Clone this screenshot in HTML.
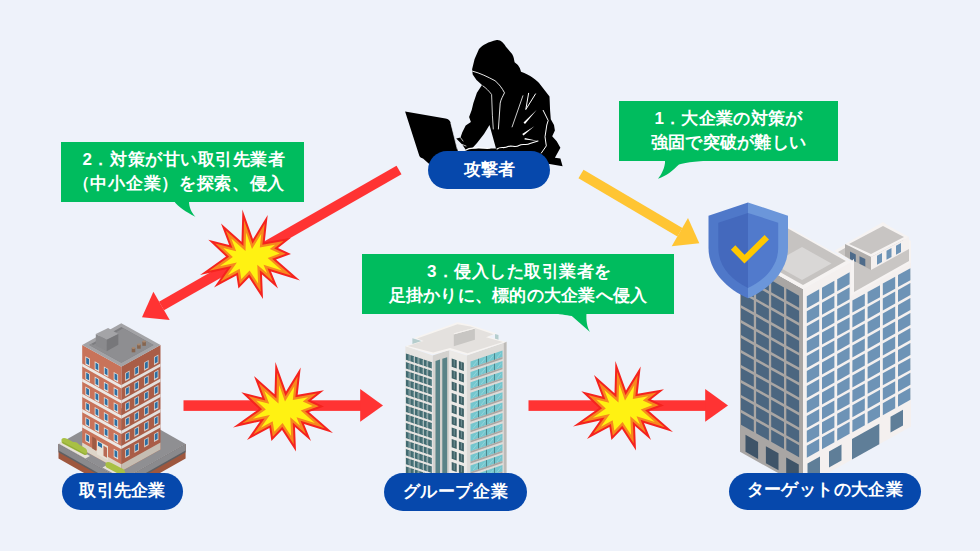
<!DOCTYPE html>
<html><head><meta charset="utf-8">
<style>
html,body{margin:0;padding:0;}
body{width:980px;height:551px;overflow:hidden;background:#EEF2FA;position:relative;font-family:"Liberation Sans",sans-serif;}
.abs{position:absolute;}
.bubble{position:absolute;background:#00BC5E;color:#fff;font-weight:bold;font-size:17px;line-height:24px;text-align:center;box-sizing:border-box;padding-top:6px;}
.pill{position:absolute;background:#0648AC;color:#fff;font-weight:bold;font-size:17px;text-align:center;border-radius:19px;box-sizing:border-box;}
svg{position:absolute;left:0;top:0;}
</style></head><body>
<svg width="980" height="551" viewBox="0 0 980 551">
<g id="b1"><polygon points="58.5,444.0 122.0,480.0 185.6,444.0 185.6,458.6 122.0,494.6 58.5,458.6" fill="#9E573E"/>
<polygon points="58.5,444.0 122.0,480.0 185.6,444.0 185.6,452.2 122.0,488.2 58.5,452.2" fill="#5F5F62"/>
<polygon points="58.5,444.0 122.0,480.0 185.6,444.0 185.6,450.4 122.0,486.4 58.5,450.4" fill="#8A8A8D"/>
<polygon points="58.5,444.0 122.0,408.0 185.6,444.0 122.0,480.0" fill="#8F8F92"/>
<polygon points="82.2,344.9 121.4,366.7 121.4,471.3 82.2,449.5" fill="#C8735A"/>
<polygon points="121.4,366.6 160.5,344.9 160.5,449.5 121.4,471.2" fill="#A95D47"/>
<polygon points="82.2,442.5 121.4,464.3 121.4,471.3 82.2,449.5" fill="#DDD5C9"/>
<polygon points="121.4,464.2 160.5,442.5 160.5,449.5 121.4,471.2" fill="#C5BDB2"/>
<polygon points="82.2,363.4 121.4,385.2 121.4,388.4 82.2,366.6" fill="#EDE9E5"/>
<polygon points="121.4,385.1 160.5,363.4 160.5,366.6 121.4,388.3" fill="#E3DFDC"/>
<polygon points="82.2,378.6 121.4,400.4 121.4,403.6 82.2,381.8" fill="#EDE9E5"/>
<polygon points="121.4,400.3 160.5,378.6 160.5,381.8 121.4,403.5" fill="#E3DFDC"/>
<polygon points="82.2,393.8 121.4,415.6 121.4,418.8 82.2,397.0" fill="#EDE9E5"/>
<polygon points="121.4,415.5 160.5,393.8 160.5,397.0 121.4,418.7" fill="#E3DFDC"/>
<polygon points="82.2,409.0 121.4,430.8 121.4,434.0 82.2,412.2" fill="#EDE9E5"/>
<polygon points="121.4,430.7 160.5,409.0 160.5,412.2 121.4,433.9" fill="#E3DFDC"/>
<polygon points="82.2,424.2 121.4,446.0 121.4,449.2 82.2,427.4" fill="#EDE9E5"/>
<polygon points="121.4,445.9 160.5,424.2 160.5,427.4 121.4,449.1" fill="#E3DFDC"/>
<polygon points="85.4,356.2 89.8,358.6 89.8,366.8 85.4,364.4" fill="#E9E6E2"/>
<polygon points="86.2,357.4 89.0,359.0 89.0,365.1 86.2,363.5" fill="#2D6FA2"/>
<polygon points="94.7,361.3 99.1,363.8 99.1,372.0 94.7,369.5" fill="#E9E6E2"/>
<polygon points="95.5,362.6 98.3,364.2 98.3,370.3 95.5,368.7" fill="#2D6FA2"/>
<polygon points="103.9,366.5 108.3,368.9 108.3,377.1 103.9,374.7" fill="#E9E6E2"/>
<polygon points="104.7,367.7 107.5,369.3 107.5,375.4 104.7,373.8" fill="#2D6FA2"/>
<polygon points="113.7,371.9 118.1,374.4 118.1,382.6 113.7,380.1" fill="#E9E6E2"/>
<polygon points="114.5,373.2 117.3,374.7 117.3,380.8 114.5,379.3" fill="#2D6FA2"/>
<polygon points="125.2,373.0 129.6,370.6 129.6,378.8 125.2,381.2" fill="#D8D3CF"/>
<polygon points="126.0,373.4 128.8,371.8 128.8,377.9 126.0,379.5" fill="#2D6FA2"/>
<polygon points="134.4,367.9 138.8,365.5 138.8,373.7 134.4,376.1" fill="#D8D3CF"/>
<polygon points="135.2,368.3 138.0,366.7 138.0,372.8 135.2,374.4" fill="#2D6FA2"/>
<polygon points="144.2,362.5 148.6,360.0 148.6,368.2 144.2,370.7" fill="#D8D3CF"/>
<polygon points="145.0,362.8 147.8,361.3 147.8,367.4 145.0,368.9" fill="#2D6FA2"/>
<polygon points="154.0,357.0 158.4,354.6 158.4,362.8 154.0,365.2" fill="#D8D3CF"/>
<polygon points="154.8,357.4 157.6,355.8 157.6,361.9 154.8,363.5" fill="#2D6FA2"/>
<polygon points="85.4,371.4 89.8,373.8 89.8,382.0 85.4,379.6" fill="#E9E6E2"/>
<polygon points="86.2,372.6 89.0,374.2 89.0,380.3 86.2,378.7" fill="#2D6FA2"/>
<polygon points="94.7,376.5 99.1,379.0 99.1,387.2 94.7,384.7" fill="#E9E6E2"/>
<polygon points="95.5,377.8 98.3,379.4 98.3,385.5 95.5,383.9" fill="#2D6FA2"/>
<polygon points="103.9,381.7 108.3,384.1 108.3,392.3 103.9,389.9" fill="#E9E6E2"/>
<polygon points="104.7,382.9 107.5,384.5 107.5,390.6 104.7,389.0" fill="#2D6FA2"/>
<polygon points="113.7,387.1 118.1,389.6 118.1,397.8 113.7,395.3" fill="#E9E6E2"/>
<polygon points="114.5,388.4 117.3,389.9 117.3,396.0 114.5,394.5" fill="#2D6FA2"/>
<polygon points="125.2,388.2 129.6,385.8 129.6,394.0 125.2,396.4" fill="#D8D3CF"/>
<polygon points="126.0,388.6 128.8,387.0 128.8,393.1 126.0,394.7" fill="#2D6FA2"/>
<polygon points="134.4,383.1 138.8,380.7 138.8,388.9 134.4,391.3" fill="#D8D3CF"/>
<polygon points="135.2,383.5 138.0,381.9 138.0,388.0 135.2,389.6" fill="#2D6FA2"/>
<polygon points="144.2,377.7 148.6,375.2 148.6,383.4 144.2,385.9" fill="#D8D3CF"/>
<polygon points="145.0,378.0 147.8,376.5 147.8,382.6 145.0,384.1" fill="#2D6FA2"/>
<polygon points="154.0,372.2 158.4,369.8 158.4,378.0 154.0,380.4" fill="#D8D3CF"/>
<polygon points="154.8,372.6 157.6,371.0 157.6,377.1 154.8,378.7" fill="#2D6FA2"/>
<polygon points="85.4,386.6 89.8,389.0 89.8,397.2 85.4,394.8" fill="#E9E6E2"/>
<polygon points="86.2,387.8 89.0,389.4 89.0,395.5 86.2,393.9" fill="#2D6FA2"/>
<polygon points="94.7,391.7 99.1,394.2 99.1,402.4 94.7,399.9" fill="#E9E6E2"/>
<polygon points="95.5,393.0 98.3,394.6 98.3,400.7 95.5,399.1" fill="#2D6FA2"/>
<polygon points="103.9,396.9 108.3,399.3 108.3,407.5 103.9,405.1" fill="#E9E6E2"/>
<polygon points="104.7,398.1 107.5,399.7 107.5,405.8 104.7,404.2" fill="#2D6FA2"/>
<polygon points="113.7,402.3 118.1,404.8 118.1,413.0 113.7,410.5" fill="#E9E6E2"/>
<polygon points="114.5,403.6 117.3,405.1 117.3,411.2 114.5,409.7" fill="#2D6FA2"/>
<polygon points="125.2,403.4 129.6,401.0 129.6,409.2 125.2,411.6" fill="#D8D3CF"/>
<polygon points="126.0,403.8 128.8,402.2 128.8,408.3 126.0,409.9" fill="#2D6FA2"/>
<polygon points="134.4,398.3 138.8,395.9 138.8,404.1 134.4,406.5" fill="#D8D3CF"/>
<polygon points="135.2,398.7 138.0,397.1 138.0,403.2 135.2,404.8" fill="#2D6FA2"/>
<polygon points="144.2,392.9 148.6,390.4 148.6,398.6 144.2,401.1" fill="#D8D3CF"/>
<polygon points="145.0,393.2 147.8,391.7 147.8,397.8 145.0,399.3" fill="#2D6FA2"/>
<polygon points="154.0,387.4 158.4,385.0 158.4,393.2 154.0,395.6" fill="#D8D3CF"/>
<polygon points="154.8,387.8 157.6,386.2 157.6,392.3 154.8,393.9" fill="#2D6FA2"/>
<polygon points="85.4,401.8 89.8,404.2 89.8,412.4 85.4,410.0" fill="#E9E6E2"/>
<polygon points="86.2,403.0 89.0,404.6 89.0,410.7 86.2,409.1" fill="#2D6FA2"/>
<polygon points="94.7,406.9 99.1,409.4 99.1,417.6 94.7,415.1" fill="#E9E6E2"/>
<polygon points="95.5,408.2 98.3,409.8 98.3,415.9 95.5,414.3" fill="#2D6FA2"/>
<polygon points="103.9,412.1 108.3,414.5 108.3,422.7 103.9,420.3" fill="#E9E6E2"/>
<polygon points="104.7,413.3 107.5,414.9 107.5,421.0 104.7,419.4" fill="#2D6FA2"/>
<polygon points="113.7,417.5 118.1,420.0 118.1,428.2 113.7,425.7" fill="#E9E6E2"/>
<polygon points="114.5,418.8 117.3,420.3 117.3,426.4 114.5,424.9" fill="#2D6FA2"/>
<polygon points="125.2,418.6 129.6,416.2 129.6,424.4 125.2,426.8" fill="#D8D3CF"/>
<polygon points="126.0,419.0 128.8,417.4 128.8,423.5 126.0,425.1" fill="#2D6FA2"/>
<polygon points="134.4,413.5 138.8,411.1 138.8,419.3 134.4,421.7" fill="#D8D3CF"/>
<polygon points="135.2,413.9 138.0,412.3 138.0,418.4 135.2,420.0" fill="#2D6FA2"/>
<polygon points="144.2,408.1 148.6,405.6 148.6,413.8 144.2,416.3" fill="#D8D3CF"/>
<polygon points="145.0,408.4 147.8,406.9 147.8,413.0 145.0,414.5" fill="#2D6FA2"/>
<polygon points="154.0,402.6 158.4,400.2 158.4,408.4 154.0,410.8" fill="#D8D3CF"/>
<polygon points="154.8,403.0 157.6,401.4 157.6,407.5 154.8,409.1" fill="#2D6FA2"/>
<polygon points="85.4,417.0 89.8,419.4 89.8,427.6 85.4,425.2" fill="#E9E6E2"/>
<polygon points="86.2,418.2 89.0,419.8 89.0,425.9 86.2,424.3" fill="#2D6FA2"/>
<polygon points="94.7,422.1 99.1,424.6 99.1,432.8 94.7,430.3" fill="#E9E6E2"/>
<polygon points="95.5,423.4 98.3,425.0 98.3,431.1 95.5,429.5" fill="#2D6FA2"/>
<polygon points="103.9,427.3 108.3,429.7 108.3,437.9 103.9,435.5" fill="#E9E6E2"/>
<polygon points="104.7,428.5 107.5,430.1 107.5,436.2 104.7,434.6" fill="#2D6FA2"/>
<polygon points="113.7,432.7 118.1,435.2 118.1,443.4 113.7,440.9" fill="#E9E6E2"/>
<polygon points="114.5,434.0 117.3,435.5 117.3,441.6 114.5,440.1" fill="#2D6FA2"/>
<polygon points="125.2,433.8 129.6,431.4 129.6,439.6 125.2,442.0" fill="#D8D3CF"/>
<polygon points="126.0,434.2 128.8,432.6 128.8,438.7 126.0,440.3" fill="#2D6FA2"/>
<polygon points="134.4,428.7 138.8,426.3 138.8,434.5 134.4,436.9" fill="#D8D3CF"/>
<polygon points="135.2,429.1 138.0,427.5 138.0,433.6 135.2,435.2" fill="#2D6FA2"/>
<polygon points="144.2,423.3 148.6,420.8 148.6,429.0 144.2,431.5" fill="#D8D3CF"/>
<polygon points="145.0,423.6 147.8,422.1 147.8,428.2 145.0,429.7" fill="#2D6FA2"/>
<polygon points="154.0,417.8 158.4,415.4 158.4,423.6 154.0,426.0" fill="#D8D3CF"/>
<polygon points="154.8,418.2 157.6,416.6 157.6,422.7 154.8,424.3" fill="#2D6FA2"/>
<polygon points="85.4,433.1 89.8,435.5 89.8,443.7 85.4,441.3" fill="#E9E6E2"/>
<polygon points="86.2,434.3 89.0,435.9 89.0,442.0 86.2,440.4" fill="#2D6FA2"/>
<polygon points="113.7,448.8 118.1,451.3 118.1,459.5 113.7,457.0" fill="#E9E6E2"/>
<polygon points="114.5,450.1 117.3,451.6 117.3,457.7 114.5,456.2" fill="#2D6FA2"/>
<polygon points="125.2,449.9 129.6,447.5 129.6,455.7 125.2,458.1" fill="#D8D3CF"/>
<polygon points="126.0,450.3 128.8,448.7 128.8,454.8 126.0,456.4" fill="#2D6FA2"/>
<polygon points="134.4,444.8 138.8,442.4 138.8,450.6 134.4,453.0" fill="#D8D3CF"/>
<polygon points="135.2,445.2 138.0,443.6 138.0,449.7 135.2,451.3" fill="#2D6FA2"/>
<polygon points="144.2,439.4 148.6,436.9 148.6,445.1 144.2,447.6" fill="#D8D3CF"/>
<polygon points="145.0,439.7 147.8,438.2 147.8,444.3 145.0,445.8" fill="#2D6FA2"/>
<polygon points="154.0,433.9 158.4,431.5 158.4,439.7 154.0,442.1" fill="#D8D3CF"/>
<polygon points="154.8,434.3 157.6,432.7 157.6,438.8 154.8,440.4" fill="#2D6FA2"/>
<polygon points="92.2,436.6 96.0,438.7 96.0,450.7 92.2,448.6" fill="#9E5A45"/>
<polygon points="97.0,440.2 108.0,446.3 108.0,460.3 97.0,454.2" fill="#E7E0D6"/>
<polygon points="98.0,441.8 102.0,444.0 102.0,448.0 98.0,445.8" fill="#2D6FA2"/>
<polygon points="103.5,445.8 107.0,447.8 107.0,457.8 103.5,455.8" fill="#B86A55"/>
<polygon points="121.4,366.7 160.5,345.0 121.3,323.2 82.2,344.9" fill="#A3A3A6"/>
<polygon points="121.4,362.8 153.5,345.0 121.3,327.1 89.2,344.9" fill="#7D7D80"/>
<polygon points="121.4,362.8 153.5,345.0 123.3,328.2 93.2,344.9 91.2,343.8 89.2,344.9" fill="#8E8E91"/>
<polygon points="95.8,333.9 108.1,328.1 118.3,333.9 106.7,339.7" fill="#A4A4A7"/>
<polygon points="95.8,333.9 106.7,339.7 106.7,351.3 95.8,345.5" fill="#8A8A8D"/>
<polygon points="106.7,339.7 118.3,333.9 118.3,344.8 106.7,351.3" fill="#77777A"/>
<rect x="131.7" y="348.1" width="3.6" height="4.2" fill="#86654F"/>
<ellipse cx="133.5" cy="348.1" rx="1.8" ry="1" fill="#A8876E"/>
<rect x="137.1" y="344.5" width="3.6" height="4.2" fill="#86654F"/>
<ellipse cx="138.9" cy="344.5" rx="1.8" ry="1" fill="#A8876E"/>
<rect x="142.3" y="341.6" width="3.6" height="4.2" fill="#86654F"/>
<ellipse cx="144.1" cy="341.6" rx="1.8" ry="1" fill="#A8876E"/>
<polygon points="58.5,443.5 63.0,441.0 90.0,456.0 85.5,458.5" fill="#E6E1D8"/>
<path d="M61.5,441 C61,437.5 64.5,437.5 67.5,439 L73,442 C76,441.5 78,443 79,444.5 L85,448 C88,450 88,454.5 84.5,455 L64.5,444.5 C62,443.5 61.5,442.5 61.5,441Z" fill="#A8C044"/>
<path d="M62,442.5 L85,454.8 C86.5,455 87.5,454 87.6,452.5 C87,454 85.8,454 84.5,453.5 L63,442 Z" fill="#8EA838"/>
<polygon points="102.5,467.5 107.0,465.0 127.0,476.0 122.5,478.5" fill="#E6E1D8"/>
<path d="M105.5,465 C105,461.5 108.5,461.5 111.5,463 L123,469 C126,471 126,475.5 122.5,476 L108.5,468.5 C106,467.5 105.5,466.5 105.5,465Z" fill="#A8C044"/></g>
<g id="b2"><polygon points="405.4,346.0 432.7,355.4 432.7,485.0 405.4,485.0" fill="#E7E5E2"/>
<polygon points="405.9,353.4 409.7,354.7 409.7,361.1 405.9,359.8" fill="#426B71"/>
<polygon points="408.5,355.0 409.3,355.3 409.3,360.3 408.5,360.0" fill="#7FA3A6"/>
<polygon points="405.9,362.1 409.7,363.4 409.7,369.8 405.9,368.5" fill="#426B71"/>
<polygon points="408.5,363.7 409.3,364.0 409.3,369.0 408.5,368.7" fill="#7FA3A6"/>
<polygon points="405.9,370.8 409.7,372.1 409.7,378.5 405.9,377.2" fill="#426B71"/>
<polygon points="408.5,372.4 409.3,372.7 409.3,377.7 408.5,377.4" fill="#7FA3A6"/>
<polygon points="405.9,379.5 409.7,380.8 409.7,387.2 405.9,385.9" fill="#426B71"/>
<polygon points="408.5,381.1 409.3,381.4 409.3,386.4 408.5,386.1" fill="#7FA3A6"/>
<polygon points="405.9,388.2 409.7,389.5 409.7,395.9 405.9,394.6" fill="#426B71"/>
<polygon points="408.5,389.8 409.3,390.1 409.3,395.1 408.5,394.8" fill="#7FA3A6"/>
<polygon points="405.9,396.9 409.7,398.2 409.7,404.6 405.9,403.3" fill="#426B71"/>
<polygon points="408.5,398.5 409.3,398.8 409.3,403.8 408.5,403.5" fill="#7FA3A6"/>
<polygon points="405.9,405.6 409.7,406.9 409.7,413.3 405.9,412.0" fill="#426B71"/>
<polygon points="408.5,407.2 409.3,407.5 409.3,412.5 408.5,412.2" fill="#7FA3A6"/>
<polygon points="405.9,414.3 409.7,415.6 409.7,422.0 405.9,420.7" fill="#426B71"/>
<polygon points="408.5,415.9 409.3,416.2 409.3,421.2 408.5,420.9" fill="#7FA3A6"/>
<polygon points="405.9,423.0 409.7,424.3 409.7,430.7 405.9,429.4" fill="#426B71"/>
<polygon points="408.5,424.6 409.3,424.9 409.3,429.9 408.5,429.6" fill="#7FA3A6"/>
<polygon points="405.9,431.7 409.7,433.0 409.7,439.4 405.9,438.1" fill="#426B71"/>
<polygon points="408.5,433.3 409.3,433.6 409.3,438.6 408.5,438.3" fill="#7FA3A6"/>
<polygon points="405.9,440.4 409.7,441.7 409.7,448.1 405.9,446.8" fill="#426B71"/>
<polygon points="408.5,442.0 409.3,442.3 409.3,447.3 408.5,447.0" fill="#7FA3A6"/>
<polygon points="405.9,449.1 409.7,450.4 409.7,456.8 405.9,455.5" fill="#426B71"/>
<polygon points="408.5,450.7 409.3,451.0 409.3,456.0 408.5,455.7" fill="#7FA3A6"/>
<polygon points="405.9,457.8 409.7,459.1 409.7,465.5 405.9,464.2" fill="#426B71"/>
<polygon points="408.5,459.4 409.3,459.7 409.3,464.7 408.5,464.4" fill="#7FA3A6"/>
<polygon points="405.9,466.5 409.7,467.8 409.7,474.2 405.9,472.9" fill="#426B71"/>
<polygon points="408.5,468.1 409.3,468.4 409.3,473.4 408.5,473.1" fill="#7FA3A6"/>
<polygon points="405.9,475.2 409.7,476.5 409.7,482.9 405.9,481.6" fill="#426B71"/>
<polygon points="408.5,476.8 409.3,477.1 409.3,482.1 408.5,481.8" fill="#7FA3A6"/>
<polygon points="410.3,354.9 414.1,356.2 414.1,362.6 410.3,361.3" fill="#426B71"/>
<polygon points="412.9,356.6 413.7,356.8 413.7,361.8 412.9,361.6" fill="#7FA3A6"/>
<polygon points="410.3,363.6 414.1,364.9 414.1,371.3 410.3,370.0" fill="#426B71"/>
<polygon points="412.9,365.3 413.7,365.5 413.7,370.5 412.9,370.3" fill="#7FA3A6"/>
<polygon points="410.3,372.3 414.1,373.6 414.1,380.0 410.3,378.7" fill="#426B71"/>
<polygon points="412.9,374.0 413.7,374.2 413.7,379.2 412.9,379.0" fill="#7FA3A6"/>
<polygon points="410.3,381.0 414.1,382.3 414.1,388.7 410.3,387.4" fill="#426B71"/>
<polygon points="412.9,382.7 413.7,382.9 413.7,387.9 412.9,387.7" fill="#7FA3A6"/>
<polygon points="410.3,389.7 414.1,391.0 414.1,397.4 410.3,396.1" fill="#426B71"/>
<polygon points="412.9,391.4 413.7,391.6 413.7,396.6 412.9,396.4" fill="#7FA3A6"/>
<polygon points="410.3,398.4 414.1,399.7 414.1,406.1 410.3,404.8" fill="#426B71"/>
<polygon points="412.9,400.1 413.7,400.3 413.7,405.3 412.9,405.1" fill="#7FA3A6"/>
<polygon points="410.3,407.1 414.1,408.4 414.1,414.8 410.3,413.5" fill="#426B71"/>
<polygon points="412.9,408.8 413.7,409.0 413.7,414.0 412.9,413.8" fill="#7FA3A6"/>
<polygon points="410.3,415.8 414.1,417.1 414.1,423.5 410.3,422.2" fill="#426B71"/>
<polygon points="412.9,417.5 413.7,417.7 413.7,422.7 412.9,422.5" fill="#7FA3A6"/>
<polygon points="410.3,424.5 414.1,425.8 414.1,432.2 410.3,430.9" fill="#426B71"/>
<polygon points="412.9,426.2 413.7,426.4 413.7,431.4 412.9,431.2" fill="#7FA3A6"/>
<polygon points="410.3,433.2 414.1,434.5 414.1,440.9 410.3,439.6" fill="#426B71"/>
<polygon points="412.9,434.9 413.7,435.1 413.7,440.1 412.9,439.9" fill="#7FA3A6"/>
<polygon points="410.3,441.9 414.1,443.2 414.1,449.6 410.3,448.3" fill="#426B71"/>
<polygon points="412.9,443.6 413.7,443.8 413.7,448.8 412.9,448.6" fill="#7FA3A6"/>
<polygon points="410.3,450.6 414.1,451.9 414.1,458.3 410.3,457.0" fill="#426B71"/>
<polygon points="412.9,452.3 413.7,452.5 413.7,457.5 412.9,457.3" fill="#7FA3A6"/>
<polygon points="410.3,459.3 414.1,460.6 414.1,467.0 410.3,465.7" fill="#426B71"/>
<polygon points="412.9,461.0 413.7,461.2 413.7,466.2 412.9,466.0" fill="#7FA3A6"/>
<polygon points="410.3,468.0 414.1,469.3 414.1,475.7 410.3,474.4" fill="#426B71"/>
<polygon points="412.9,469.7 413.7,469.9 413.7,474.9 412.9,474.7" fill="#7FA3A6"/>
<polygon points="410.3,476.7 414.1,478.0 414.1,484.4 410.3,483.1" fill="#426B71"/>
<polygon points="412.9,478.4 413.7,478.6 413.7,483.6 412.9,483.4" fill="#7FA3A6"/>
<polygon points="414.8,356.4 418.6,357.7 418.6,364.1 414.8,362.8" fill="#426B71"/>
<polygon points="417.4,358.1 418.2,358.3 418.2,363.3 417.4,363.1" fill="#7FA3A6"/>
<polygon points="414.8,365.1 418.6,366.4 418.6,372.8 414.8,371.5" fill="#426B71"/>
<polygon points="417.4,366.8 418.2,367.0 418.2,372.0 417.4,371.8" fill="#7FA3A6"/>
<polygon points="414.8,373.8 418.6,375.1 418.6,381.5 414.8,380.2" fill="#426B71"/>
<polygon points="417.4,375.5 418.2,375.7 418.2,380.7 417.4,380.5" fill="#7FA3A6"/>
<polygon points="414.8,382.5 418.6,383.8 418.6,390.2 414.8,388.9" fill="#426B71"/>
<polygon points="417.4,384.2 418.2,384.4 418.2,389.4 417.4,389.2" fill="#7FA3A6"/>
<polygon points="414.8,391.2 418.6,392.5 418.6,398.9 414.8,397.6" fill="#426B71"/>
<polygon points="417.4,392.9 418.2,393.1 418.2,398.1 417.4,397.9" fill="#7FA3A6"/>
<polygon points="414.8,399.9 418.6,401.2 418.6,407.6 414.8,406.3" fill="#426B71"/>
<polygon points="417.4,401.6 418.2,401.8 418.2,406.8 417.4,406.6" fill="#7FA3A6"/>
<polygon points="414.8,408.6 418.6,409.9 418.6,416.3 414.8,415.0" fill="#426B71"/>
<polygon points="417.4,410.3 418.2,410.5 418.2,415.5 417.4,415.3" fill="#7FA3A6"/>
<polygon points="414.8,417.3 418.6,418.6 418.6,425.0 414.8,423.7" fill="#426B71"/>
<polygon points="417.4,419.0 418.2,419.2 418.2,424.2 417.4,424.0" fill="#7FA3A6"/>
<polygon points="414.8,426.0 418.6,427.3 418.6,433.7 414.8,432.4" fill="#426B71"/>
<polygon points="417.4,427.7 418.2,427.9 418.2,432.9 417.4,432.7" fill="#7FA3A6"/>
<polygon points="414.8,434.7 418.6,436.0 418.6,442.4 414.8,441.1" fill="#426B71"/>
<polygon points="417.4,436.4 418.2,436.6 418.2,441.6 417.4,441.4" fill="#7FA3A6"/>
<polygon points="414.8,443.4 418.6,444.7 418.6,451.1 414.8,449.8" fill="#426B71"/>
<polygon points="417.4,445.1 418.2,445.3 418.2,450.3 417.4,450.1" fill="#7FA3A6"/>
<polygon points="414.8,452.1 418.6,453.4 418.6,459.8 414.8,458.5" fill="#426B71"/>
<polygon points="417.4,453.8 418.2,454.0 418.2,459.0 417.4,458.8" fill="#7FA3A6"/>
<polygon points="414.8,460.8 418.6,462.1 418.6,468.5 414.8,467.2" fill="#426B71"/>
<polygon points="417.4,462.5 418.2,462.7 418.2,467.7 417.4,467.5" fill="#7FA3A6"/>
<polygon points="414.8,469.5 418.6,470.8 418.6,477.2 414.8,475.9" fill="#426B71"/>
<polygon points="417.4,471.2 418.2,471.4 418.2,476.4 417.4,476.2" fill="#7FA3A6"/>
<polygon points="414.8,478.2 418.6,479.5 418.6,485.9 414.8,484.6" fill="#426B71"/>
<polygon points="417.4,479.9 418.2,480.1 418.2,485.1 417.4,484.9" fill="#7FA3A6"/>
<polygon points="419.2,357.9 423.1,359.2 423.1,365.6 419.2,364.3" fill="#426B71"/>
<polygon points="421.9,359.6 422.6,359.9 422.6,364.9 421.9,364.6" fill="#7FA3A6"/>
<polygon points="419.2,366.6 423.1,367.9 423.1,374.3 419.2,373.0" fill="#426B71"/>
<polygon points="421.9,368.3 422.6,368.6 422.6,373.6 421.9,373.3" fill="#7FA3A6"/>
<polygon points="419.2,375.3 423.1,376.6 423.1,383.0 419.2,381.7" fill="#426B71"/>
<polygon points="421.9,377.0 422.6,377.3 422.6,382.3 421.9,382.0" fill="#7FA3A6"/>
<polygon points="419.2,384.0 423.1,385.3 423.1,391.7 419.2,390.4" fill="#426B71"/>
<polygon points="421.9,385.7 422.6,386.0 422.6,391.0 421.9,390.7" fill="#7FA3A6"/>
<polygon points="419.2,392.7 423.1,394.0 423.1,400.4 419.2,399.1" fill="#426B71"/>
<polygon points="421.9,394.4 422.6,394.7 422.6,399.7 421.9,399.4" fill="#7FA3A6"/>
<polygon points="419.2,401.4 423.1,402.7 423.1,409.1 419.2,407.8" fill="#426B71"/>
<polygon points="421.9,403.1 422.6,403.4 422.6,408.4 421.9,408.1" fill="#7FA3A6"/>
<polygon points="419.2,410.1 423.1,411.4 423.1,417.8 419.2,416.5" fill="#426B71"/>
<polygon points="421.9,411.8 422.6,412.1 422.6,417.1 421.9,416.8" fill="#7FA3A6"/>
<polygon points="419.2,418.8 423.1,420.1 423.1,426.5 419.2,425.2" fill="#426B71"/>
<polygon points="421.9,420.5 422.6,420.8 422.6,425.8 421.9,425.5" fill="#7FA3A6"/>
<polygon points="419.2,427.5 423.1,428.8 423.1,435.2 419.2,433.9" fill="#426B71"/>
<polygon points="421.9,429.2 422.6,429.5 422.6,434.5 421.9,434.2" fill="#7FA3A6"/>
<polygon points="419.2,436.2 423.1,437.5 423.1,443.9 419.2,442.6" fill="#426B71"/>
<polygon points="421.9,437.9 422.6,438.2 422.6,443.2 421.9,442.9" fill="#7FA3A6"/>
<polygon points="419.2,444.9 423.1,446.2 423.1,452.6 419.2,451.3" fill="#426B71"/>
<polygon points="421.9,446.6 422.6,446.9 422.6,451.9 421.9,451.6" fill="#7FA3A6"/>
<polygon points="419.2,453.6 423.1,454.9 423.1,461.3 419.2,460.0" fill="#426B71"/>
<polygon points="421.9,455.3 422.6,455.6 422.6,460.6 421.9,460.3" fill="#7FA3A6"/>
<polygon points="419.2,462.3 423.1,463.6 423.1,470.0 419.2,468.7" fill="#426B71"/>
<polygon points="421.9,464.0 422.6,464.3 422.6,469.3 421.9,469.0" fill="#7FA3A6"/>
<polygon points="419.2,471.0 423.1,472.3 423.1,478.7 419.2,477.4" fill="#426B71"/>
<polygon points="421.9,472.7 422.6,473.0 422.6,478.0 421.9,477.7" fill="#7FA3A6"/>
<polygon points="419.2,479.7 423.1,481.0 423.1,487.4 419.2,486.1" fill="#426B71"/>
<polygon points="421.9,481.4 422.6,481.7 422.6,486.7 421.9,486.4" fill="#7FA3A6"/>
<polygon points="423.7,359.4 427.5,360.7 427.5,367.1 423.7,365.8" fill="#426B71"/>
<polygon points="426.3,361.1 427.1,361.4 427.1,366.4 426.3,366.1" fill="#7FA3A6"/>
<polygon points="423.7,368.1 427.5,369.4 427.5,375.8 423.7,374.5" fill="#426B71"/>
<polygon points="426.3,369.8 427.1,370.1 427.1,375.1 426.3,374.8" fill="#7FA3A6"/>
<polygon points="423.7,376.8 427.5,378.1 427.5,384.5 423.7,383.2" fill="#426B71"/>
<polygon points="426.3,378.5 427.1,378.8 427.1,383.8 426.3,383.5" fill="#7FA3A6"/>
<polygon points="423.7,385.5 427.5,386.8 427.5,393.2 423.7,391.9" fill="#426B71"/>
<polygon points="426.3,387.2 427.1,387.5 427.1,392.5 426.3,392.2" fill="#7FA3A6"/>
<polygon points="423.7,394.2 427.5,395.5 427.5,401.9 423.7,400.6" fill="#426B71"/>
<polygon points="426.3,395.9 427.1,396.2 427.1,401.2 426.3,400.9" fill="#7FA3A6"/>
<polygon points="423.7,402.9 427.5,404.2 427.5,410.6 423.7,409.3" fill="#426B71"/>
<polygon points="426.3,404.6 427.1,404.9 427.1,409.9 426.3,409.6" fill="#7FA3A6"/>
<polygon points="423.7,411.6 427.5,412.9 427.5,419.3 423.7,418.0" fill="#426B71"/>
<polygon points="426.3,413.3 427.1,413.6 427.1,418.6 426.3,418.3" fill="#7FA3A6"/>
<polygon points="423.7,420.3 427.5,421.6 427.5,428.0 423.7,426.7" fill="#426B71"/>
<polygon points="426.3,422.0 427.1,422.3 427.1,427.3 426.3,427.0" fill="#7FA3A6"/>
<polygon points="423.7,429.0 427.5,430.3 427.5,436.7 423.7,435.4" fill="#426B71"/>
<polygon points="426.3,430.7 427.1,431.0 427.1,436.0 426.3,435.7" fill="#7FA3A6"/>
<polygon points="423.7,437.7 427.5,439.0 427.5,445.4 423.7,444.1" fill="#426B71"/>
<polygon points="426.3,439.4 427.1,439.7 427.1,444.7 426.3,444.4" fill="#7FA3A6"/>
<polygon points="423.7,446.4 427.5,447.7 427.5,454.1 423.7,452.8" fill="#426B71"/>
<polygon points="426.3,448.1 427.1,448.4 427.1,453.4 426.3,453.1" fill="#7FA3A6"/>
<polygon points="423.7,455.1 427.5,456.4 427.5,462.8 423.7,461.5" fill="#426B71"/>
<polygon points="426.3,456.8 427.1,457.1 427.1,462.1 426.3,461.8" fill="#7FA3A6"/>
<polygon points="423.7,463.8 427.5,465.1 427.5,471.5 423.7,470.2" fill="#426B71"/>
<polygon points="426.3,465.5 427.1,465.8 427.1,470.8 426.3,470.5" fill="#7FA3A6"/>
<polygon points="423.7,472.5 427.5,473.8 427.5,480.2 423.7,478.9" fill="#426B71"/>
<polygon points="426.3,474.2 427.1,474.5 427.1,479.5 426.3,479.2" fill="#7FA3A6"/>
<polygon points="423.7,481.2 427.5,482.5 427.5,488.9 423.7,487.6" fill="#426B71"/>
<polygon points="426.3,482.9 427.1,483.2 427.1,488.2 426.3,487.9" fill="#7FA3A6"/>
<polygon points="428.1,360.9 431.9,362.2 431.9,368.6 428.1,367.3" fill="#426B71"/>
<polygon points="430.8,362.6 431.5,362.9 431.5,367.9 430.8,367.6" fill="#7FA3A6"/>
<polygon points="428.1,369.6 431.9,370.9 431.9,377.3 428.1,376.0" fill="#426B71"/>
<polygon points="430.8,371.3 431.5,371.6 431.5,376.6 430.8,376.3" fill="#7FA3A6"/>
<polygon points="428.1,378.3 431.9,379.6 431.9,386.0 428.1,384.7" fill="#426B71"/>
<polygon points="430.8,380.0 431.5,380.3 431.5,385.3 430.8,385.0" fill="#7FA3A6"/>
<polygon points="428.1,387.0 431.9,388.3 431.9,394.7 428.1,393.4" fill="#426B71"/>
<polygon points="430.8,388.7 431.5,389.0 431.5,394.0 430.8,393.7" fill="#7FA3A6"/>
<polygon points="428.1,395.7 431.9,397.0 431.9,403.4 428.1,402.1" fill="#426B71"/>
<polygon points="430.8,397.4 431.5,397.7 431.5,402.7 430.8,402.4" fill="#7FA3A6"/>
<polygon points="428.1,404.4 431.9,405.7 431.9,412.1 428.1,410.8" fill="#426B71"/>
<polygon points="430.8,406.1 431.5,406.4 431.5,411.4 430.8,411.1" fill="#7FA3A6"/>
<polygon points="428.1,413.1 431.9,414.4 431.9,420.8 428.1,419.5" fill="#426B71"/>
<polygon points="430.8,414.8 431.5,415.1 431.5,420.1 430.8,419.8" fill="#7FA3A6"/>
<polygon points="428.1,421.8 431.9,423.1 431.9,429.5 428.1,428.2" fill="#426B71"/>
<polygon points="430.8,423.5 431.5,423.8 431.5,428.8 430.8,428.5" fill="#7FA3A6"/>
<polygon points="428.1,430.5 431.9,431.8 431.9,438.2 428.1,436.9" fill="#426B71"/>
<polygon points="430.8,432.2 431.5,432.5 431.5,437.5 430.8,437.2" fill="#7FA3A6"/>
<polygon points="428.1,439.2 431.9,440.5 431.9,446.9 428.1,445.6" fill="#426B71"/>
<polygon points="430.8,440.9 431.5,441.2 431.5,446.2 430.8,445.9" fill="#7FA3A6"/>
<polygon points="428.1,447.9 431.9,449.2 431.9,455.6 428.1,454.3" fill="#426B71"/>
<polygon points="430.8,449.6 431.5,449.9 431.5,454.9 430.8,454.6" fill="#7FA3A6"/>
<polygon points="428.1,456.6 431.9,457.9 431.9,464.3 428.1,463.0" fill="#426B71"/>
<polygon points="430.8,458.3 431.5,458.6 431.5,463.6 430.8,463.3" fill="#7FA3A6"/>
<polygon points="428.1,465.3 431.9,466.6 431.9,473.0 428.1,471.7" fill="#426B71"/>
<polygon points="430.8,467.0 431.5,467.3 431.5,472.3 430.8,472.0" fill="#7FA3A6"/>
<polygon points="428.1,474.0 431.9,475.3 431.9,481.7 428.1,480.4" fill="#426B71"/>
<polygon points="430.8,475.7 431.5,476.0 431.5,481.0 430.8,480.7" fill="#7FA3A6"/>
<polygon points="428.1,482.7 431.9,484.0 431.9,490.4 428.1,489.1" fill="#426B71"/>
<polygon points="430.8,484.4 431.5,484.7 431.5,489.7 430.8,489.4" fill="#7FA3A6"/>
<polygon points="432.7,355.4 449.5,349.9 449.5,485.0 432.7,485.0" fill="#D4D2CF"/>
<polygon points="435.5,361.0 440.0,359.5 440.0,485.0 435.5,485.0" fill="#5A8388"/>
<polygon points="442.3,358.8 447.2,357.2 447.2,485.0 442.3,485.0" fill="#5A8388"/>
<polygon points="449.5,349.9 466.8,355.4 466.8,485.0 449.5,485.0" fill="#ECEAE7"/>
<polygon points="451.7,358.6 456.7,360.3 456.7,368.5 451.7,366.8" fill="#3F6166"/>
<line x1="454.2" y1="359.6" x2="454.2" y2="366.4" stroke="#8FB0B3" stroke-width="0.6"/>
<polygon points="451.7,370.1 456.7,371.8 456.7,380.0 451.7,378.3" fill="#3F6166"/>
<line x1="454.2" y1="371.1" x2="454.2" y2="377.9" stroke="#8FB0B3" stroke-width="0.6"/>
<polygon points="451.7,381.6 456.7,383.3 456.7,391.5 451.7,389.8" fill="#3F6166"/>
<line x1="454.2" y1="382.6" x2="454.2" y2="389.4" stroke="#8FB0B3" stroke-width="0.6"/>
<polygon points="451.7,393.1 456.7,394.8 456.7,403.0 451.7,401.3" fill="#3F6166"/>
<line x1="454.2" y1="394.1" x2="454.2" y2="400.9" stroke="#8FB0B3" stroke-width="0.6"/>
<polygon points="451.7,404.6 456.7,406.3 456.7,414.5 451.7,412.8" fill="#3F6166"/>
<line x1="454.2" y1="405.6" x2="454.2" y2="412.4" stroke="#8FB0B3" stroke-width="0.6"/>
<polygon points="451.7,416.1 456.7,417.8 456.7,426.0 451.7,424.3" fill="#3F6166"/>
<line x1="454.2" y1="417.1" x2="454.2" y2="423.9" stroke="#8FB0B3" stroke-width="0.6"/>
<polygon points="451.7,427.6 456.7,429.3 456.7,437.5 451.7,435.8" fill="#3F6166"/>
<line x1="454.2" y1="428.6" x2="454.2" y2="435.4" stroke="#8FB0B3" stroke-width="0.6"/>
<polygon points="451.7,439.1 456.7,440.8 456.7,449.0 451.7,447.3" fill="#3F6166"/>
<line x1="454.2" y1="440.1" x2="454.2" y2="446.9" stroke="#8FB0B3" stroke-width="0.6"/>
<polygon points="451.7,450.6 456.7,452.3 456.7,460.5 451.7,458.8" fill="#3F6166"/>
<line x1="454.2" y1="451.6" x2="454.2" y2="458.4" stroke="#8FB0B3" stroke-width="0.6"/>
<polygon points="451.7,462.1 456.7,463.8 456.7,472.0 451.7,470.3" fill="#3F6166"/>
<line x1="454.2" y1="463.1" x2="454.2" y2="469.9" stroke="#8FB0B3" stroke-width="0.6"/>
<polygon points="458.9,361.0 463.9,362.7 463.9,370.9 458.9,369.2" fill="#3F6166"/>
<line x1="461.4" y1="362.0" x2="461.4" y2="368.8" stroke="#8FB0B3" stroke-width="0.6"/>
<polygon points="458.9,372.5 463.9,374.2 463.9,382.4 458.9,380.7" fill="#3F6166"/>
<line x1="461.4" y1="373.5" x2="461.4" y2="380.3" stroke="#8FB0B3" stroke-width="0.6"/>
<polygon points="458.9,384.0 463.9,385.7 463.9,393.9 458.9,392.2" fill="#3F6166"/>
<line x1="461.4" y1="385.0" x2="461.4" y2="391.8" stroke="#8FB0B3" stroke-width="0.6"/>
<polygon points="458.9,395.5 463.9,397.2 463.9,405.4 458.9,403.7" fill="#3F6166"/>
<line x1="461.4" y1="396.5" x2="461.4" y2="403.3" stroke="#8FB0B3" stroke-width="0.6"/>
<polygon points="458.9,407.0 463.9,408.7 463.9,416.9 458.9,415.2" fill="#3F6166"/>
<line x1="461.4" y1="408.0" x2="461.4" y2="414.8" stroke="#8FB0B3" stroke-width="0.6"/>
<polygon points="458.9,418.5 463.9,420.2 463.9,428.4 458.9,426.7" fill="#3F6166"/>
<line x1="461.4" y1="419.5" x2="461.4" y2="426.3" stroke="#8FB0B3" stroke-width="0.6"/>
<polygon points="458.9,430.0 463.9,431.7 463.9,439.9 458.9,438.2" fill="#3F6166"/>
<line x1="461.4" y1="431.0" x2="461.4" y2="437.8" stroke="#8FB0B3" stroke-width="0.6"/>
<polygon points="458.9,441.5 463.9,443.2 463.9,451.4 458.9,449.7" fill="#3F6166"/>
<line x1="461.4" y1="442.5" x2="461.4" y2="449.3" stroke="#8FB0B3" stroke-width="0.6"/>
<polygon points="458.9,453.0 463.9,454.7 463.9,462.9 458.9,461.2" fill="#3F6166"/>
<line x1="461.4" y1="454.0" x2="461.4" y2="460.8" stroke="#8FB0B3" stroke-width="0.6"/>
<polygon points="458.9,464.5 463.9,466.2 463.9,474.4 458.9,472.7" fill="#3F6166"/>
<line x1="461.4" y1="465.5" x2="461.4" y2="472.3" stroke="#8FB0B3" stroke-width="0.6"/>
<polygon points="466.8,355.4 506.5,341.8 506.5,485.0 466.8,485.0" fill="#DDDBD8"/>
<polygon points="503.8,342.7 506.5,341.8 506.5,485.0 503.8,485.0" fill="#BDBBB8"/>
<polygon points="470.5,361.5 502.5,350.6 502.5,357.1 470.5,368.0" fill="#74C6CE"/>
<polygon points="470.5,368.0 502.5,357.1 502.5,358.9 470.5,369.8" fill="#A9A7A4"/>
<line x1="478.5" y1="358.8" x2="478.5" y2="365.3" stroke="#3E6B70" stroke-width="0.7"/>
<line x1="486.5" y1="356.1" x2="486.5" y2="362.6" stroke="#3E6B70" stroke-width="0.7"/>
<line x1="494.5" y1="353.3" x2="494.5" y2="359.8" stroke="#3E6B70" stroke-width="0.7"/>
<line x1="473.0" y1="366.1" x2="477.0" y2="361.1" stroke="#A6DDE2" stroke-width="0.6"/>
<line x1="481.0" y1="363.4" x2="485.0" y2="358.4" stroke="#A6DDE2" stroke-width="0.6"/>
<line x1="489.0" y1="360.7" x2="493.0" y2="355.7" stroke="#A6DDE2" stroke-width="0.6"/>
<line x1="497.0" y1="358.0" x2="501.0" y2="353.0" stroke="#A6DDE2" stroke-width="0.6"/>
<polygon points="470.5,371.9 502.5,361.0 502.5,367.5 470.5,378.4" fill="#74C6CE"/>
<polygon points="470.5,378.4 502.5,367.5 502.5,369.3 470.5,380.2" fill="#A9A7A4"/>
<line x1="478.5" y1="369.2" x2="478.5" y2="375.7" stroke="#3E6B70" stroke-width="0.7"/>
<line x1="486.5" y1="366.5" x2="486.5" y2="373.0" stroke="#3E6B70" stroke-width="0.7"/>
<line x1="494.5" y1="363.7" x2="494.5" y2="370.2" stroke="#3E6B70" stroke-width="0.7"/>
<line x1="473.0" y1="376.5" x2="477.0" y2="371.5" stroke="#A6DDE2" stroke-width="0.6"/>
<line x1="481.0" y1="373.8" x2="485.0" y2="368.8" stroke="#A6DDE2" stroke-width="0.6"/>
<line x1="489.0" y1="371.1" x2="493.0" y2="366.1" stroke="#A6DDE2" stroke-width="0.6"/>
<line x1="497.0" y1="368.4" x2="501.0" y2="363.4" stroke="#A6DDE2" stroke-width="0.6"/>
<polygon points="470.5,382.3 502.5,371.4 502.5,377.9 470.5,388.8" fill="#74C6CE"/>
<polygon points="470.5,388.8 502.5,377.9 502.5,379.7 470.5,390.6" fill="#A9A7A4"/>
<line x1="478.5" y1="379.6" x2="478.5" y2="386.1" stroke="#3E6B70" stroke-width="0.7"/>
<line x1="486.5" y1="376.9" x2="486.5" y2="383.4" stroke="#3E6B70" stroke-width="0.7"/>
<line x1="494.5" y1="374.1" x2="494.5" y2="380.6" stroke="#3E6B70" stroke-width="0.7"/>
<line x1="473.0" y1="386.9" x2="477.0" y2="381.9" stroke="#A6DDE2" stroke-width="0.6"/>
<line x1="481.0" y1="384.2" x2="485.0" y2="379.2" stroke="#A6DDE2" stroke-width="0.6"/>
<line x1="489.0" y1="381.5" x2="493.0" y2="376.5" stroke="#A6DDE2" stroke-width="0.6"/>
<line x1="497.0" y1="378.8" x2="501.0" y2="373.8" stroke="#A6DDE2" stroke-width="0.6"/>
<polygon points="470.5,392.7 502.5,381.8 502.5,388.3 470.5,399.2" fill="#74C6CE"/>
<polygon points="470.5,399.2 502.5,388.3 502.5,390.1 470.5,401.0" fill="#A9A7A4"/>
<line x1="478.5" y1="390.0" x2="478.5" y2="396.5" stroke="#3E6B70" stroke-width="0.7"/>
<line x1="486.5" y1="387.3" x2="486.5" y2="393.8" stroke="#3E6B70" stroke-width="0.7"/>
<line x1="494.5" y1="384.5" x2="494.5" y2="391.0" stroke="#3E6B70" stroke-width="0.7"/>
<line x1="473.0" y1="397.3" x2="477.0" y2="392.3" stroke="#A6DDE2" stroke-width="0.6"/>
<line x1="481.0" y1="394.6" x2="485.0" y2="389.6" stroke="#A6DDE2" stroke-width="0.6"/>
<line x1="489.0" y1="391.9" x2="493.0" y2="386.9" stroke="#A6DDE2" stroke-width="0.6"/>
<line x1="497.0" y1="389.2" x2="501.0" y2="384.2" stroke="#A6DDE2" stroke-width="0.6"/>
<polygon points="470.5,403.1 502.5,392.2 502.5,398.7 470.5,409.6" fill="#74C6CE"/>
<polygon points="470.5,409.6 502.5,398.7 502.5,400.5 470.5,411.4" fill="#A9A7A4"/>
<line x1="478.5" y1="400.4" x2="478.5" y2="406.9" stroke="#3E6B70" stroke-width="0.7"/>
<line x1="486.5" y1="397.7" x2="486.5" y2="404.2" stroke="#3E6B70" stroke-width="0.7"/>
<line x1="494.5" y1="394.9" x2="494.5" y2="401.4" stroke="#3E6B70" stroke-width="0.7"/>
<line x1="473.0" y1="407.8" x2="477.0" y2="402.8" stroke="#A6DDE2" stroke-width="0.6"/>
<line x1="481.0" y1="405.0" x2="485.0" y2="400.0" stroke="#A6DDE2" stroke-width="0.6"/>
<line x1="489.0" y1="402.3" x2="493.0" y2="397.3" stroke="#A6DDE2" stroke-width="0.6"/>
<line x1="497.0" y1="399.6" x2="501.0" y2="394.6" stroke="#A6DDE2" stroke-width="0.6"/>
<polygon points="470.5,413.5 502.5,402.6 502.5,409.1 470.5,420.0" fill="#74C6CE"/>
<polygon points="470.5,420.0 502.5,409.1 502.5,410.9 470.5,421.8" fill="#A9A7A4"/>
<line x1="478.5" y1="410.8" x2="478.5" y2="417.3" stroke="#3E6B70" stroke-width="0.7"/>
<line x1="486.5" y1="408.1" x2="486.5" y2="414.6" stroke="#3E6B70" stroke-width="0.7"/>
<line x1="494.5" y1="405.3" x2="494.5" y2="411.8" stroke="#3E6B70" stroke-width="0.7"/>
<line x1="473.0" y1="418.1" x2="477.0" y2="413.1" stroke="#A6DDE2" stroke-width="0.6"/>
<line x1="481.0" y1="415.4" x2="485.0" y2="410.4" stroke="#A6DDE2" stroke-width="0.6"/>
<line x1="489.0" y1="412.7" x2="493.0" y2="407.7" stroke="#A6DDE2" stroke-width="0.6"/>
<line x1="497.0" y1="410.0" x2="501.0" y2="405.0" stroke="#A6DDE2" stroke-width="0.6"/>
<polygon points="470.5,423.9 502.5,413.0 502.5,419.5 470.5,430.4" fill="#74C6CE"/>
<polygon points="470.5,430.4 502.5,419.5 502.5,421.3 470.5,432.2" fill="#A9A7A4"/>
<line x1="478.5" y1="421.2" x2="478.5" y2="427.7" stroke="#3E6B70" stroke-width="0.7"/>
<line x1="486.5" y1="418.5" x2="486.5" y2="425.0" stroke="#3E6B70" stroke-width="0.7"/>
<line x1="494.5" y1="415.7" x2="494.5" y2="422.2" stroke="#3E6B70" stroke-width="0.7"/>
<line x1="473.0" y1="428.5" x2="477.0" y2="423.5" stroke="#A6DDE2" stroke-width="0.6"/>
<line x1="481.0" y1="425.8" x2="485.0" y2="420.8" stroke="#A6DDE2" stroke-width="0.6"/>
<line x1="489.0" y1="423.1" x2="493.0" y2="418.1" stroke="#A6DDE2" stroke-width="0.6"/>
<line x1="497.0" y1="420.4" x2="501.0" y2="415.4" stroke="#A6DDE2" stroke-width="0.6"/>
<polygon points="470.5,434.3 502.5,423.4 502.5,429.9 470.5,440.8" fill="#74C6CE"/>
<polygon points="470.5,440.8 502.5,429.9 502.5,431.7 470.5,442.6" fill="#A9A7A4"/>
<line x1="478.5" y1="431.6" x2="478.5" y2="438.1" stroke="#3E6B70" stroke-width="0.7"/>
<line x1="486.5" y1="428.9" x2="486.5" y2="435.4" stroke="#3E6B70" stroke-width="0.7"/>
<line x1="494.5" y1="426.1" x2="494.5" y2="432.6" stroke="#3E6B70" stroke-width="0.7"/>
<line x1="473.0" y1="438.9" x2="477.0" y2="433.9" stroke="#A6DDE2" stroke-width="0.6"/>
<line x1="481.0" y1="436.2" x2="485.0" y2="431.2" stroke="#A6DDE2" stroke-width="0.6"/>
<line x1="489.0" y1="433.5" x2="493.0" y2="428.5" stroke="#A6DDE2" stroke-width="0.6"/>
<line x1="497.0" y1="430.8" x2="501.0" y2="425.8" stroke="#A6DDE2" stroke-width="0.6"/>
<polygon points="470.5,444.7 502.5,433.8 502.5,440.3 470.5,451.2" fill="#74C6CE"/>
<polygon points="470.5,451.2 502.5,440.3 502.5,442.1 470.5,453.0" fill="#A9A7A4"/>
<line x1="478.5" y1="442.0" x2="478.5" y2="448.5" stroke="#3E6B70" stroke-width="0.7"/>
<line x1="486.5" y1="439.3" x2="486.5" y2="445.8" stroke="#3E6B70" stroke-width="0.7"/>
<line x1="494.5" y1="436.5" x2="494.5" y2="443.0" stroke="#3E6B70" stroke-width="0.7"/>
<line x1="473.0" y1="449.3" x2="477.0" y2="444.3" stroke="#A6DDE2" stroke-width="0.6"/>
<line x1="481.0" y1="446.6" x2="485.0" y2="441.6" stroke="#A6DDE2" stroke-width="0.6"/>
<line x1="489.0" y1="443.9" x2="493.0" y2="438.9" stroke="#A6DDE2" stroke-width="0.6"/>
<line x1="497.0" y1="441.2" x2="501.0" y2="436.2" stroke="#A6DDE2" stroke-width="0.6"/>
<polygon points="470.5,455.1 502.5,444.2 502.5,450.7 470.5,461.6" fill="#74C6CE"/>
<polygon points="470.5,461.6 502.5,450.7 502.5,452.5 470.5,463.4" fill="#A9A7A4"/>
<line x1="478.5" y1="452.4" x2="478.5" y2="458.9" stroke="#3E6B70" stroke-width="0.7"/>
<line x1="486.5" y1="449.7" x2="486.5" y2="456.2" stroke="#3E6B70" stroke-width="0.7"/>
<line x1="494.5" y1="446.9" x2="494.5" y2="453.4" stroke="#3E6B70" stroke-width="0.7"/>
<line x1="473.0" y1="459.8" x2="477.0" y2="454.8" stroke="#A6DDE2" stroke-width="0.6"/>
<line x1="481.0" y1="457.0" x2="485.0" y2="452.0" stroke="#A6DDE2" stroke-width="0.6"/>
<line x1="489.0" y1="454.3" x2="493.0" y2="449.3" stroke="#A6DDE2" stroke-width="0.6"/>
<line x1="497.0" y1="451.6" x2="501.0" y2="446.6" stroke="#A6DDE2" stroke-width="0.6"/>
<polygon points="470.5,465.5 502.5,454.6 502.5,461.1 470.5,472.0" fill="#74C6CE"/>
<polygon points="470.5,472.0 502.5,461.1 502.5,462.9 470.5,473.8" fill="#A9A7A4"/>
<line x1="478.5" y1="462.8" x2="478.5" y2="469.3" stroke="#3E6B70" stroke-width="0.7"/>
<line x1="486.5" y1="460.1" x2="486.5" y2="466.6" stroke="#3E6B70" stroke-width="0.7"/>
<line x1="494.5" y1="457.3" x2="494.5" y2="463.8" stroke="#3E6B70" stroke-width="0.7"/>
<line x1="473.0" y1="470.1" x2="477.0" y2="465.1" stroke="#A6DDE2" stroke-width="0.6"/>
<line x1="481.0" y1="467.4" x2="485.0" y2="462.4" stroke="#A6DDE2" stroke-width="0.6"/>
<line x1="489.0" y1="464.7" x2="493.0" y2="459.7" stroke="#A6DDE2" stroke-width="0.6"/>
<line x1="497.0" y1="462.0" x2="501.0" y2="457.0" stroke="#A6DDE2" stroke-width="0.6"/>
<polygon points="470.5,475.9 502.5,465.0 502.5,471.5 470.5,482.4" fill="#74C6CE"/>
<polygon points="470.5,482.4 502.5,471.5 502.5,473.3 470.5,484.2" fill="#A9A7A4"/>
<line x1="478.5" y1="473.2" x2="478.5" y2="479.7" stroke="#3E6B70" stroke-width="0.7"/>
<line x1="486.5" y1="470.5" x2="486.5" y2="477.0" stroke="#3E6B70" stroke-width="0.7"/>
<line x1="494.5" y1="467.7" x2="494.5" y2="474.2" stroke="#3E6B70" stroke-width="0.7"/>
<line x1="473.0" y1="480.5" x2="477.0" y2="475.5" stroke="#A6DDE2" stroke-width="0.6"/>
<line x1="481.0" y1="477.8" x2="485.0" y2="472.8" stroke="#A6DDE2" stroke-width="0.6"/>
<line x1="489.0" y1="475.1" x2="493.0" y2="470.1" stroke="#A6DDE2" stroke-width="0.6"/>
<line x1="497.0" y1="472.4" x2="501.0" y2="467.4" stroke="#A6DDE2" stroke-width="0.6"/>
<polygon points="412.4,338.2 421.9,340.9 421.9,345.0 412.4,345.0" fill="#B5CDCD"/>
<polygon points="495.0,333.9 498.5,335.0 498.5,340.0 495.0,340.0" fill="#B5CDCD"/>
<polygon points="405.2,346.2 421.9,340.9 413.9,338.0 457.5,322.3 470.5,324.9 496.7,333.6 488.7,336.8 506.1,341.9 467.6,355.0 450.2,349.9 433.1,354.2" fill="#F7F4F1"/>
<polygon points="407.8,346.0 423.5,341.0 417.0,338.6 457.5,324.2 470.5,326.6 493.5,334.2 486.0,337.2 503.0,342.0 467.6,353.2 450.2,348.1 433.1,352.4" fill="#E4E1DE"/>
<polygon points="453.8,333.9 474.9,328.1 474.9,339.7 453.8,346.2" fill="#C8C6C3"/>
<polygon points="453.8,333.9 474.9,328.1" fill="#F7F4F1" stroke="#F4F1EE" stroke-width="1"/></g>
<g id="b3"><polygon points="740.0,253.7 803.0,289.0 803.0,487.0 740.0,451.7" fill="#A9A6A4"/>
<polygon points="741.0,263.3 753.8,270.4 753.8,282.4 741.0,275.3" fill="#4B6680"/>
<polygon points="741.0,278.2 753.8,285.4 753.8,297.4 741.0,290.2" fill="#4B6680"/>
<polygon points="741.0,293.2 753.8,300.3 753.8,312.3 741.0,305.2" fill="#4B6680"/>
<polygon points="741.0,308.1 753.8,315.3 753.8,327.3 741.0,320.1" fill="#4B6680"/>
<polygon points="741.0,323.1 753.8,330.2 753.8,342.2 741.0,335.1" fill="#4B6680"/>
<polygon points="741.0,338.0 753.8,345.2 753.8,357.2 741.0,350.0" fill="#4B6680"/>
<polygon points="741.0,353.0 753.8,360.1 753.8,372.1 741.0,365.0" fill="#4B6680"/>
<polygon points="741.0,367.9 753.8,375.1 753.8,387.1 741.0,379.9" fill="#4B6680"/>
<polygon points="741.0,382.9 753.8,390.0 753.8,402.0 741.0,394.9" fill="#4B6680"/>
<polygon points="741.0,397.8 753.8,405.0 753.8,417.0 741.0,409.8" fill="#4B6680"/>
<polygon points="741.0,412.8 753.8,419.9 753.8,431.9 741.0,424.8" fill="#4B6680"/>
<polygon points="756.1,271.7 768.9,278.9 768.9,290.9 756.1,283.7" fill="#4B6680"/>
<polygon points="756.1,286.7 768.9,293.9 768.9,305.9 756.1,298.7" fill="#4B6680"/>
<polygon points="756.1,301.6 768.9,308.8 768.9,320.8 756.1,313.6" fill="#4B6680"/>
<polygon points="756.1,316.6 768.9,323.8 768.9,335.8 756.1,328.6" fill="#4B6680"/>
<polygon points="756.1,331.5 768.9,338.7 768.9,350.7 756.1,343.5" fill="#4B6680"/>
<polygon points="756.1,346.5 768.9,353.7 768.9,365.7 756.1,358.5" fill="#4B6680"/>
<polygon points="756.1,361.4 768.9,368.6 768.9,380.6 756.1,373.4" fill="#4B6680"/>
<polygon points="756.1,376.4 768.9,383.6 768.9,395.6 756.1,388.4" fill="#4B6680"/>
<polygon points="756.1,391.3 768.9,398.5 768.9,410.5 756.1,403.3" fill="#4B6680"/>
<polygon points="756.1,406.3 768.9,413.5 768.9,425.5 756.1,418.3" fill="#4B6680"/>
<polygon points="756.1,421.2 768.9,428.4 768.9,440.4 756.1,433.2" fill="#4B6680"/>
<polygon points="771.2,280.2 784.0,287.4 784.0,299.4 771.2,292.2" fill="#4B6680"/>
<polygon points="771.2,295.1 784.0,302.3 784.0,314.3 771.2,307.1" fill="#4B6680"/>
<polygon points="771.2,310.1 784.0,317.3 784.0,329.3 771.2,322.1" fill="#4B6680"/>
<polygon points="771.2,325.0 784.0,332.2 784.0,344.2 771.2,337.0" fill="#4B6680"/>
<polygon points="771.2,340.0 784.0,347.2 784.0,359.2 771.2,352.0" fill="#4B6680"/>
<polygon points="771.2,354.9 784.0,362.1 784.0,374.1 771.2,366.9" fill="#4B6680"/>
<polygon points="771.2,369.9 784.0,377.1 784.0,389.1 771.2,381.9" fill="#4B6680"/>
<polygon points="771.2,384.8 784.0,392.0 784.0,404.0 771.2,396.8" fill="#4B6680"/>
<polygon points="771.2,399.8 784.0,407.0 784.0,419.0 771.2,411.8" fill="#4B6680"/>
<polygon points="771.2,414.7 784.0,421.9 784.0,433.9 771.2,426.7" fill="#4B6680"/>
<polygon points="771.2,429.7 784.0,436.9 784.0,448.9 771.2,441.7" fill="#4B6680"/>
<polygon points="786.3,288.6 799.1,295.8 799.1,307.8 786.3,300.6" fill="#4B6680"/>
<polygon points="786.3,303.6 799.1,310.8 799.1,322.8 786.3,315.6" fill="#4B6680"/>
<polygon points="786.3,318.5 799.1,325.7 799.1,337.7 786.3,330.5" fill="#4B6680"/>
<polygon points="786.3,333.5 799.1,340.7 799.1,352.7 786.3,345.5" fill="#4B6680"/>
<polygon points="786.3,348.4 799.1,355.6 799.1,367.6 786.3,360.4" fill="#4B6680"/>
<polygon points="786.3,363.4 799.1,370.6 799.1,382.6 786.3,375.4" fill="#4B6680"/>
<polygon points="786.3,378.3 799.1,385.5 799.1,397.5 786.3,390.3" fill="#4B6680"/>
<polygon points="786.3,393.3 799.1,400.5 799.1,412.5 786.3,405.3" fill="#4B6680"/>
<polygon points="786.3,408.2 799.1,415.4 799.1,427.4 786.3,420.2" fill="#4B6680"/>
<polygon points="786.3,423.2 799.1,430.4 799.1,442.4 786.3,435.2" fill="#4B6680"/>
<polygon points="786.3,438.1 799.1,445.3 799.1,457.3 786.3,450.1" fill="#4B6680"/>
<polygon points="745.5,434.8 758.1,441.9 758.1,458.9 745.5,451.8" fill="#3F5468"/>
<polygon points="765.9,446.2 778.5,453.3 778.5,470.3 765.9,463.2" fill="#3F5468"/>
<polygon points="786.2,457.6 798.8,464.6 798.8,481.6 786.2,474.6" fill="#3F5468"/>
<polygon points="803.0,289.0 851.0,262.1 851.0,292.1 911.0,258.5 911.0,426.5 803.0,487.0" fill="#F4F0EF"/>
<polygon points="806.8,296.3 819.2,289.3 819.2,301.3 806.8,308.3" fill="#6D93B6"/>
<polygon points="806.8,311.2 819.2,304.3 819.2,316.3 806.8,323.2" fill="#6D93B6"/>
<polygon points="806.8,326.2 819.2,319.2 819.2,331.2 806.8,338.2" fill="#6D93B6"/>
<polygon points="806.8,341.1 819.2,334.2 819.2,346.2 806.8,353.1" fill="#6D93B6"/>
<polygon points="806.8,356.1 819.2,349.1 819.2,361.1 806.8,368.1" fill="#6D93B6"/>
<polygon points="806.8,371.0 819.2,364.1 819.2,376.1 806.8,383.0" fill="#6D93B6"/>
<polygon points="806.8,386.0 819.2,379.0 819.2,391.0 806.8,398.0" fill="#6D93B6"/>
<polygon points="806.8,400.9 819.2,394.0 819.2,406.0 806.8,412.9" fill="#6D93B6"/>
<polygon points="806.8,415.9 819.2,408.9 819.2,420.9 806.8,427.9" fill="#6D93B6"/>
<polygon points="806.8,430.8 819.2,423.9 819.2,435.9 806.8,442.8" fill="#6D93B6"/>
<polygon points="806.8,445.8 819.2,438.8 819.2,450.8 806.8,457.8" fill="#6D93B6"/>
<polygon points="822.0,287.8 834.4,280.8 834.4,292.8 822.0,299.8" fill="#6D93B6"/>
<polygon points="822.0,302.7 834.4,295.8 834.4,307.8 822.0,314.7" fill="#6D93B6"/>
<polygon points="822.0,317.7 834.4,310.7 834.4,322.7 822.0,329.7" fill="#6D93B6"/>
<polygon points="822.0,332.6 834.4,325.7 834.4,337.7 822.0,344.6" fill="#6D93B6"/>
<polygon points="822.0,347.6 834.4,340.6 834.4,352.6 822.0,359.6" fill="#6D93B6"/>
<polygon points="822.0,362.5 834.4,355.6 834.4,367.6 822.0,374.5" fill="#6D93B6"/>
<polygon points="822.0,377.5 834.4,370.5 834.4,382.5 822.0,389.5" fill="#6D93B6"/>
<polygon points="822.0,392.4 834.4,385.5 834.4,397.5 822.0,404.4" fill="#6D93B6"/>
<polygon points="822.0,407.4 834.4,400.4 834.4,412.4 822.0,419.4" fill="#6D93B6"/>
<polygon points="822.0,422.3 834.4,415.4 834.4,427.4 822.0,434.3" fill="#6D93B6"/>
<polygon points="822.0,437.3 834.4,430.3 834.4,442.3 822.0,449.3" fill="#6D93B6"/>
<polygon points="837.2,279.2 849.6,272.3 849.6,284.3 837.2,291.2" fill="#6D93B6"/>
<polygon points="837.2,294.2 849.6,287.3 849.6,299.3 837.2,306.2" fill="#6D93B6"/>
<polygon points="837.2,309.1 849.6,302.2 849.6,314.2 837.2,321.1" fill="#6D93B6"/>
<polygon points="837.2,324.1 849.6,317.2 849.6,329.2 837.2,336.1" fill="#6D93B6"/>
<polygon points="837.2,339.0 849.6,332.1 849.6,344.1 837.2,351.0" fill="#6D93B6"/>
<polygon points="837.2,354.0 849.6,347.1 849.6,359.1 837.2,366.0" fill="#6D93B6"/>
<polygon points="837.2,368.9 849.6,362.0 849.6,374.0 837.2,380.9" fill="#6D93B6"/>
<polygon points="837.2,383.9 849.6,377.0 849.6,389.0 837.2,395.9" fill="#6D93B6"/>
<polygon points="837.2,398.8 849.6,391.9 849.6,403.9 837.2,410.8" fill="#6D93B6"/>
<polygon points="837.2,413.8 849.6,406.9 849.6,418.9 837.2,425.8" fill="#6D93B6"/>
<polygon points="837.2,428.7 849.6,421.8 849.6,433.8 837.2,440.7" fill="#6D93B6"/>
<polygon points="852.4,300.6 864.8,293.7 864.8,305.7 852.4,312.6" fill="#6D93B6"/>
<polygon points="852.4,315.6 864.8,308.6 864.8,320.6 852.4,327.6" fill="#6D93B6"/>
<polygon points="852.4,330.5 864.8,323.6 864.8,335.6 852.4,342.5" fill="#6D93B6"/>
<polygon points="852.4,345.5 864.8,338.5 864.8,350.5 852.4,357.5" fill="#6D93B6"/>
<polygon points="852.4,360.4 864.8,353.5 864.8,365.5 852.4,372.4" fill="#6D93B6"/>
<polygon points="852.4,375.4 864.8,368.4 864.8,380.4 852.4,387.4" fill="#6D93B6"/>
<polygon points="852.4,390.3 864.8,383.4 864.8,395.4 852.4,402.3" fill="#6D93B6"/>
<polygon points="852.4,405.3 864.8,398.3 864.8,410.3 852.4,417.3" fill="#6D93B6"/>
<polygon points="852.4,420.2 864.8,413.3 864.8,425.3 852.4,432.2" fill="#6D93B6"/>
<polygon points="867.6,292.1 880.0,285.2 880.0,297.2 867.6,304.1" fill="#6D93B6"/>
<polygon points="867.6,307.1 880.0,300.1 880.0,312.1 867.6,319.1" fill="#6D93B6"/>
<polygon points="867.6,322.0 880.0,315.1 880.0,327.1 867.6,334.0" fill="#6D93B6"/>
<polygon points="867.6,337.0 880.0,330.0 880.0,342.0 867.6,349.0" fill="#6D93B6"/>
<polygon points="867.6,351.9 880.0,345.0 880.0,357.0 867.6,363.9" fill="#6D93B6"/>
<polygon points="867.6,366.9 880.0,359.9 880.0,371.9 867.6,378.9" fill="#6D93B6"/>
<polygon points="867.6,381.8 880.0,374.9 880.0,386.9 867.6,393.8" fill="#6D93B6"/>
<polygon points="867.6,396.8 880.0,389.8 880.0,401.8 867.6,408.8" fill="#6D93B6"/>
<polygon points="867.6,411.7 880.0,404.8 880.0,416.8 867.6,423.7" fill="#6D93B6"/>
<polygon points="882.8,283.6 895.2,276.7 895.2,288.7 882.8,295.6" fill="#6D93B6"/>
<polygon points="882.8,298.6 895.2,291.6 895.2,303.6 882.8,310.6" fill="#6D93B6"/>
<polygon points="882.8,313.5 895.2,306.6 895.2,318.6 882.8,325.5" fill="#6D93B6"/>
<polygon points="882.8,328.5 895.2,321.5 895.2,333.5 882.8,340.5" fill="#6D93B6"/>
<polygon points="882.8,343.4 895.2,336.5 895.2,348.5 882.8,355.4" fill="#6D93B6"/>
<polygon points="882.8,358.4 895.2,351.4 895.2,363.4 882.8,370.4" fill="#6D93B6"/>
<polygon points="882.8,373.3 895.2,366.4 895.2,378.4 882.8,385.3" fill="#6D93B6"/>
<polygon points="882.8,388.3 895.2,381.3 895.2,393.3 882.8,400.3" fill="#6D93B6"/>
<polygon points="882.8,403.2 895.2,396.3 895.2,408.3 882.8,415.2" fill="#6D93B6"/>
<polygon points="898.0,275.1 910.4,268.2 910.4,280.2 898.0,287.1" fill="#6D93B6"/>
<polygon points="898.0,290.1 910.4,283.1 910.4,295.1 898.0,302.1" fill="#6D93B6"/>
<polygon points="898.0,305.0 910.4,298.1 910.4,310.1 898.0,317.0" fill="#6D93B6"/>
<polygon points="898.0,320.0 910.4,313.0 910.4,325.0 898.0,332.0" fill="#6D93B6"/>
<polygon points="898.0,334.9 910.4,328.0 910.4,340.0 898.0,346.9" fill="#6D93B6"/>
<polygon points="898.0,349.9 910.4,342.9 910.4,354.9 898.0,361.9" fill="#6D93B6"/>
<polygon points="898.0,364.8 910.4,357.9 910.4,369.9 898.0,376.8" fill="#6D93B6"/>
<polygon points="898.0,379.8 910.4,372.8 910.4,384.8 898.0,391.8" fill="#6D93B6"/>
<polygon points="898.0,394.7 910.4,387.8 910.4,399.8 898.0,406.7" fill="#6D93B6"/>
<polygon points="807.5,463.5 820.0,456.5 820.0,477.5 807.5,484.5" fill="#5F7E98"/>
<polygon points="829.0,451.4 841.5,444.4 841.5,460.4 829.0,467.4" fill="#5F7E98"/>
<polygon points="852.0,439.1 879.3,423.8 879.3,444.3 852.0,459.6" fill="#5F7E98"/>
<polygon points="890.5,416.7 903.0,409.7 903.0,425.5 890.5,432.5" fill="#5F7E98"/>
<polygon points="803.0,289.0 851.0,262.1 788.0,226.8 740.0,253.7" fill="#F6F3F2"/>
<polygon points="803.0,285.0 845.8,261.0 788.0,228.6 745.2,252.6" fill="#C6C3C1"/>
<polygon points="803.0,285.0 846.2,260.8 846.2,260.8 803.0,285.0" fill="#C6C3C1"/>
<polygon points="802.0,280.0 831.5,263.5 802.0,247.0 772.5,263.5" fill="#D9D7D6"/>
<polygon points="851.0,296.0 911.0,262.5 911.0,241.0 883.0,222.0 834.0,251.0 851.0,261.0" fill="#F6F3F2"/>
<polygon points="854.0,292.0 909.0,261.0 909.0,243.0 883.0,226.0 838.0,252.0 854.0,262.0" fill="#C9C6C4"/>
<polygon points="845.0,244.0 883.0,223.0 909.0,237.0 871.0,257.0" fill="#F6F3F2"/>
<polygon points="849.0,244.0 883.0,226.0 904.0,237.0 871.0,254.0" fill="#C8C5C3"/>
<polygon points="845.0,244.0 871.0,257.0 871.0,270.0 845.0,256.0" fill="#B1AEAC"/>
<polygon points="871.0,257.0 909.0,237.0 909.0,249.0 871.0,270.0" fill="#F4F0EF"/>
<polygon points="850.0,251.5 855.8,254.4 855.8,261.9 850.0,259.0" fill="#4E6B8A"/>
<polygon points="859.5,256.2 865.3,259.1 865.3,266.6 859.5,263.8" fill="#4E6B8A"/>
<polygon points="877.0,255.8 882.0,253.1 882.0,262.1 877.0,264.8" fill="#6D93B6"/>
<polygon points="886.5,250.8 891.5,248.1 891.5,257.1 886.5,259.8" fill="#6D93B6"/>
<polygon points="896.0,245.8 901.0,243.1 901.0,252.1 896.0,254.8" fill="#6D93B6"/>
<polygon points="803.0,289.0 851.0,262.1 788.0,226.8 740.0,253.7" fill="#F6F3F2"/>
<polygon points="803.0,285.0 845.8,261.0 788.0,228.6 745.2,252.6" fill="#C6C3C1"/>
<polygon points="803.0,285.0 846.2,260.8 846.2,260.8 803.0,285.0" fill="#C6C3C1"/>
<polygon points="802.0,280.0 831.5,263.5 802.0,247.0 772.5,263.5" fill="#D9D7D6"/>
<polygon points="851.0,262.1 854.0,258.7 854.0,290.4 851.0,292.1" fill="#F6F3F2"/></g>
<g id="shield">
<path d="M748,202.4 L708.5,215.7 L708.5,248 C708.5,270 725,288 748,298.3 Z" fill="#4F78C9"/>
<path d="M748,202.4 L788,215.7 L788,248 C788,270 771,288 748,298.3 Z" fill="#6B96DA"/>
<path d="M748,212.9 L718.3,222.7 L718.3,248 C718.3,266 731,280 748,288 Z" fill="#4469BD"/>
<path d="M748,212.9 L778.2,222.7 L778.2,248 C778.2,266 765,280 748,288 Z" fill="#517ACC"/>
<polyline points="733.1,247.5 744.5,259.2 766.8,237.2" fill="none" stroke="#FFC800" stroke-width="6.2" stroke-linejoin="miter" stroke-miterlimit="10"/>
</g>
<g id="hacker">
<path d="M405.1,111.4 L445.5,118.4 C448.5,119 450,120.5 450.6,122.5 L457.5,149.5 L462,170 L436,170 L423,158.5 C421,158 420,157.5 419.3,155.8 Z" fill="#000"/>
<path d="M496.8,40.1 C501,39.8 503.5,43 505.7,46.4 L512.1,54.1 C514,57 514,60 514.6,62.3 C517,64 519.7,66 521,71.8 C530,75 537,80 540.6,85 L549.5,96.4 L550.1,110.4 L550.8,119.3 L554,125 L554.9,130.4 L552.2,136.3 L556.7,141.3 L560.4,147.7 L554.9,157.7 L560.4,158.6 L562.6,166.3 L549.5,164 L466,166 L465.7,149.7 L462.2,144.5 L456.2,138.4 L460.5,137.6 L462.2,132.4 L465.7,125.5 L470.9,122.1 L469.1,116.9 L471.7,110 L473.4,103.1 L476.9,92.8 L482,85 L476.5,80 L472.7,74.4 L472.1,69.3 L474.6,59.1 L479,49 C483,45 488,42 496.8,40.1 Z" fill="#000"/>
<path d="M489.5,125 L496,148.5 L472,148.5 L477,143 L484,134 Z" fill="#EEF2FA"/>
<g fill="none" stroke="#fff" stroke-linecap="round" stroke-linejoin="round">
<path d="M472.6,71.2 C480,73 488,77 495,80.7 C499,84 502,88 504.5,92.8 C503,96 501,99 500.2,103.1 L498.4,129" stroke-width="0.9"/>
<path d="M482.9,85.9 C486,88 489,91 491.6,94.5 L492.4,115.2 L493.3,129" stroke-width="0.8"/>
<path d="M522.9,95.8 L512.1,126.9" stroke-width="0.8"/>
<path d="M528.6,93.3 L525.8,109.5 L535.5,93.9" stroke-width="1"/>
<path d="M543.2,110.4 L548.2,120.5 L546.8,125 L545,136.8 L546.3,145.9 L541.3,153.1" stroke-width="1"/>
<path d="M460.5,137.6 L463,141 M462.2,144.5 L466,146" stroke-width="0.7"/>
<path d="M466,150 C470,147 474,149 478,147.5 C482,147 486,149.5 490,148 M497,149 C501,146 504,149 508,146.5 C512,145 515,148 519,145.5 C523,143 526,146 530,143.5 L538,141" stroke-width="1.1"/>
</g>
<path d="M536.8,109.8 L523.5,122.5 L525,124 Z M534.3,126.3 L522.2,134 L523.5,135.5 Z M538.1,140.9 L524.8,138 L524.5,139.5 Z" fill="#fff"/>
<path d="M450.8,122.8 L457.3,149.3" fill="none" stroke="#EEF2FA" stroke-width="0.7"/>
</g>

  <defs>
    <g id="boom">
      <polygon points="275.4,362.1 286.0,391.6 300.7,367.5 297.7,394.8 324.0,390.2 311.0,400.6 324.0,406.5 309.0,412.0 333.0,433.0 304.0,424.0 311.0,441.0 295.0,427.0 296.0,451.4 282.0,430.0 271.4,441.0 269.4,428.0 247.0,440.0 260.0,421.5 233.0,427.4 259.0,409.0 241.3,392.3 262.2,397.5 254.0,376.1 274.5,394.3" fill="#F5231E"/>
      <polygon points="277.1,372.8 276.4,398.6 258.8,383.0 265.4,400.4 248.2,396.1 262.1,409.2 242.2,423.3 264.6,418.5 253.5,434.3 270.9,424.9 272.8,436.7 282.3,426.8 293.7,444.2 292.8,422.4 305.9,433.9 300.5,420.8 324.6,428.3 305.1,411.3 318.7,406.3 307.2,401.1 316.7,393.5 295.4,397.2 297.7,376.2 285.5,396.2" fill="#F7891E"/>
      <polygon points="279.1,385.0 278.5,403.6 264.3,391.0 269.2,403.7 256.2,400.4 265.8,409.5 252.8,418.7 269.9,414.9 260.9,427.7 272.7,421.3 274.3,431.8 282.6,423.1 291.1,436.0 290.3,417.2 300.1,425.7 296.5,417.2 314.9,422.9 300.7,410.5 312.7,406.1 302.8,401.6 308.2,397.3 292.8,400.0 294.3,386.2 285.0,401.5" fill="#FFF212"/>
    </g>
  </defs>
  <!-- bubble tails -->
  <path d="M665,159 L665,163 C664,170 661,175 658,178.7 C667,176 673,170 679,164.5 C686,162 700,161 720,160 L720,159 Z" fill="#00BC5E"/>
  <path d="M174,201 C178,207 186,212 195.4,216.7 C191,212 189,207 189,201 Z" fill="#00BC5E"/>
  <path d="M550,313 C560,314 566,315 571.8,316 L590,332 C587,327 586,320 586.5,313 Z" fill="#00BC5E"/>
  <!-- red diagonal arrow -->
  <line x1="399" y1="170" x2="161.5" y2="306" stroke="#FF3333" stroke-width="10"/>
  <polygon points="142,317.3 153.4,291.8 169.7,320" fill="#FF3333"/>
  <!-- yellow arrow -->
  <line x1="581" y1="174" x2="679.9" y2="232.2" stroke="#FFC533" stroke-width="10"/>
  <polygon points="699.3,243.2 688,218.1 671.7,246.3" fill="#FFC533"/>
  <!-- horizontal arrows -->
  <rect x="183.5" y="400.3" width="178" height="10.6" fill="#FF3333"/>
  <polygon points="360.2,389 383,405.4 360.2,421.8" fill="#FF3333"/>
  <rect x="528.5" y="400.3" width="178" height="10.6" fill="#FF3333"/>
  <polygon points="705.2,389 728,405.4 705.2,421.8" fill="#FF3333"/>
  <use href="#boom"/>
  <use href="#boom" transform="translate(340,-1)"/>
  <use href="#boom" transform="translate(-33,-152.5)"/>
</svg>

<div class="bubble" style="left:619px;top:101px;width:219px;height:60px;"><span style="letter-spacing:0.3px">1．大企業の対策が</span><br><span style="letter-spacing:0.25px">強固で突破が難しい</span></div>
<div class="bubble" style="left:61px;top:142px;width:243px;height:60px;"><span style="letter-spacing:0.55px;position:relative;left:1.5px">2．対策が甘い取引先業者</span><br><span style="letter-spacing:0.7px;position:relative;left:-3.5px">（中小企業）を探索、侵入</span></div>
<div class="bubble" style="left:362px;top:254px;width:312px;height:60px;"><span style="letter-spacing:0.5px;position:relative;left:1.5px">3．侵入した取引業者を</span><br><span style="letter-spacing:0.25px">足掛かりに、標的の大企業へ侵入</span></div>

<div class="pill" style="left:428px;top:151px;width:122px;height:38px;line-height:38px;">攻撃者</div>
<div class="pill" style="left:62px;top:473px;width:121px;height:37px;line-height:35px;letter-spacing:0.3px;">取引先企業</div>
<div class="pill" style="left:384px;top:473px;width:143px;height:38px;line-height:38px;letter-spacing:0.6px;">グループ企業</div>
<div class="pill" style="left:729px;top:473px;width:192px;height:37px;line-height:34px;letter-spacing:0.4px;">ターゲットの大企業</div>
</body></html>
